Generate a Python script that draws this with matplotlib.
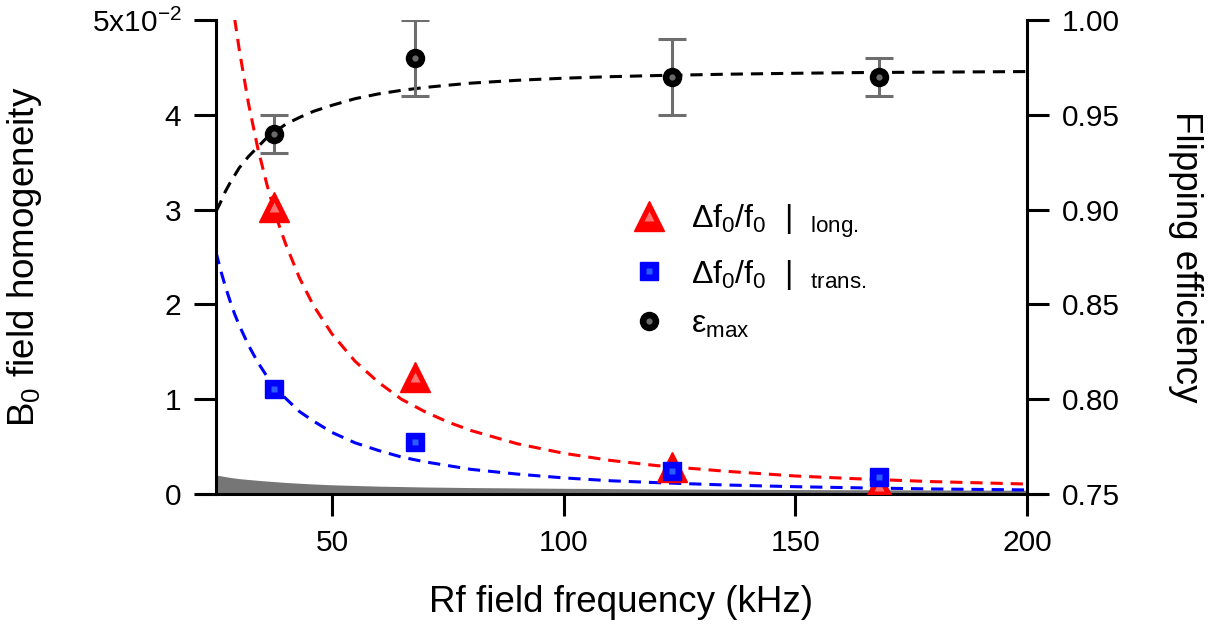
import matplotlib
matplotlib.use("Agg")
import matplotlib.pyplot as plt
from matplotlib.legend_handler import HandlerTuple

plt.rcParams['font.family'] = ['Liberation Sans', 'DejaVu Sans']
plt.rcParams['mathtext.fontset'] = 'custom'
plt.rcParams['mathtext.rm'] = 'Liberation Sans'
plt.rcParams['mathtext.it'] = 'Liberation Sans:italic'
plt.rcParams['mathtext.bf'] = 'Liberation Sans:bold'
plt.rcParams['axes.unicode_minus'] = False

# measured points (x in kHz, homogeneity in units of 1e-2)
freq = [37.5, 68, 123.5, 168]
long_vals = [3.03, 1.23, 0.285, 0.08]
trans_vals = [1.11, 0.55, 0.24, 0.175]
eff = [0.94, 0.98, 0.97, 0.97]
eff_err = [0.01, 0.02, 0.02, 0.01]

# fit curves
fit_x = [25, 26, 27, 28, 29, 30, 32, 34, 36, 38, 40, 43, 46, 50, 55, 60, 65, 70, 75,
         80, 90, 100, 110, 120, 135, 150, 165, 180, 200]
fit_long = [6.75, 6.24, 5.79, 5.38, 5.02, 4.69, 4.12, 3.65, 3.26, 2.92, 2.64, 2.28, 1.99,
            1.69, 1.40, 1.18, 1.00, 0.87, 0.76, 0.67, 0.53, 0.43, 0.355, 0.30, 0.24,
            0.19, 0.157, 0.13, 0.105]
fit_trans = [2.55, 2.36, 2.19, 2.04, 1.90, 1.78, 1.57, 1.39, 1.24, 1.11, 1.01, 0.87, 0.77,
             0.65, 0.54, 0.46, 0.39, 0.34, 0.30, 0.26, 0.21, 0.17, 0.14, 0.12, 0.095,
             0.077, 0.064, 0.053, 0.043]
fit_eff = [0.899, 0.904, 0.9095, 0.914, 0.918, 0.922, 0.928, 0.933, 0.938, 0.9415, 0.945,
           0.9486, 0.9518, 0.955, 0.9585, 0.961, 0.9629, 0.9644, 0.9656, 0.9667, 0.9682,
           0.9693, 0.9701, 0.9707, 0.9714, 0.9719, 0.9723, 0.9725, 0.9728]

# grey band at the bottom
band_x = [25, 28, 30, 35, 40, 45, 50, 60, 70, 80, 100, 120, 150, 200]
band_y = [0.20, 0.175, 0.162, 0.14, 0.122, 0.108, 0.097, 0.083, 0.074, 0.068, 0.06,
          0.054, 0.047, 0.04]

left_ticks = [0, 1, 2, 3, 4, 5]
left_ticklabels = ['0', '1', '2', '3', '4', '5x10$^{\\mathregular{-2}}$']
right_ticks = [0.75, 0.80, 0.85, 0.90, 0.95, 1.00]
x_ticks = [50, 100, 150, 200]

fig = plt.figure(figsize=(12.24, 6.25), dpi=100)
ax = fig.add_axes([0.1765, 0.2096, 0.6625, 0.7584])
ax2 = ax.twinx()

lw = 2.2
dash = (4, 2.6)

ax.fill_between(band_x, 0, band_y, color='#767676', lw=0, zorder=1)
ax.plot(fit_x, fit_long, color='#ff0000', lw=lw, dashes=dash, zorder=2)
ax.plot(fit_x, fit_trans, color='#0000ff', lw=lw, dashes=dash, zorder=2)

tri, = ax.plot(freq, long_vals, ls='none', marker='^', ms=21, color='#ff0000', mec='#ff0000', zorder=3)
tri_in, = ax.plot(freq, long_vals, ls='none', marker='^', ms=7, color='#ff7070', mec='none', zorder=3)
sq, = ax.plot(freq, trans_vals, ls='none', marker='s', ms=13, color='#0000ff', mec='#0000ff', zorder=4)
sq_in, = ax.plot(freq, trans_vals, ls='none', marker='s', ms=5, color='#2a5cff', mec='none', zorder=4)

ax2.plot(fit_x, fit_eff, color='black', lw=lw, dashes=dash, zorder=2)
ax2.errorbar(freq, eff, yerr=eff_err, fmt='none', ecolor='#6e6e6e', elinewidth=2.2, capsize=10, capthick=2.2, zorder=3)
circ, = ax2.plot(freq, eff, ls='none', marker='o', ms=13, color='black', zorder=4)
circ_in, = ax2.plot(freq, eff, ls='none', marker='o', ms=4.5, color='#6a6a6a', mec='none', zorder=5)

ax.set_xlim(25, 200)
ax.set_ylim(0, 5)
ax2.set_ylim(0.75, 1.00)

ax.set_xticks(x_ticks)
ax.set_yticks(left_ticks)
ax.set_yticklabels(left_ticklabels)
ax2.set_yticks(right_ticks)
ax2.set_yticklabels(['%.2f' % v for v in right_ticks])

for a in (ax, ax2):
    a.spines['top'].set_visible(False)
    a.tick_params(length=16, width=2.2, labelsize=21.5, direction='out', pad=9)
ax.spines['right'].set_visible(False)
ax2.spines['left'].set_visible(False)
ax2.spines['bottom'].set_visible(False)
for s in ('left', 'bottom'):
    ax.spines[s].set_linewidth(2.2)
ax2.spines['right'].set_linewidth(2.2)
ax.spines['bottom'].set_bounds(21.4, 203.6)

ax.set_xlabel('Rf field frequency (kHz)', fontsize=26.5, labelpad=20)
ax.set_ylabel('B$_0$ field homogeneity', fontsize=26.5, labelpad=34)
ax2.set_ylabel('Flipping efficiency', fontsize=26.5, rotation=270, labelpad=60)

handles = [(tri, tri_in), (sq, sq_in), (circ, circ_in)]
labels = ['$\\Delta$f$_0$/f$_0$  |  $_{\\mathrm{long.}}$',
          '$\\Delta$f$_0$/f$_0$  |  $_{\\mathrm{trans.}}$',
          'ε$_{\\mathrm{max}}$']
ax2.legend(handles, labels, handler_map={tuple: HandlerTuple(ndivide=1)},
           loc='upper left', bbox_to_anchor=(0.494, 0.722), bbox_transform=fig.transFigure,
           frameon=False, fontsize=23, handlelength=1.0, handletextpad=0.8,
           labelspacing=0.56)

fig.savefig('out.png', dpi=100)
